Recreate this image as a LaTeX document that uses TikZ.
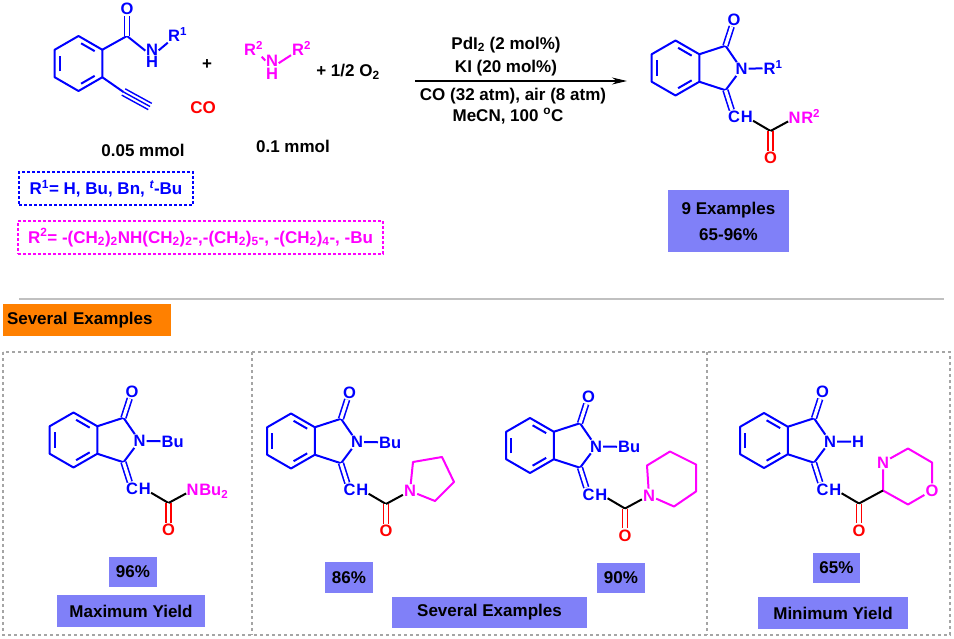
\documentclass[tikz,border=0pt]{standalone}
\usepackage{fontspec}
\setmainfont{Liberation Sans}
\usetikzlibrary{calc, positioning, arrows.meta}

\definecolor{chemblue}{RGB}{0,0,255}
\definecolor{chemred}{RGB}{255,0,0}
\definecolor{chempink}{RGB}{255,0,255}
\definecolor{boxblue}{RGB}{128,128,248}
\definecolor{boxorange}{RGB}{255,128,0}
\definecolor{framegray}{RGB}{165,165,165}

\tikzset{
  txt/.style={font=\bfseries\fontsize{17}{20}\selectfont, inner sep=1pt},
  atom/.style={font=\bfseries\fontsize{16.5}{19}\selectfont, inner sep=1pt},
  nh/.style={font=\bfseries\fontsize{16.5}{12.5}\selectfont, inner sep=0.5pt, align=center},
  tight/.style={inner xsep=0.2pt},
  bond/.style={line width=2pt, line join=round},
  dbond/.style={double, double distance=3.2pt, line width=1.6pt},
  ybox/.style={txt, fill=boxblue},
  gframe/.style={framegray, line width=1.2pt, dash pattern=on 3pt off 3pt}
}

% benzene ring at the origin of the current scope
\newcommand{\benzene}{%
  \foreach \i/\ang in {1/-90,2/-30,3/30,4/90,5/150,6/210}
  {
    \coordinate (a\i) at (\ang:27.5);
    \coordinate (b\i) at (\ang:21.7);
  }
  \draw[bond] (a1) -- (a2) -- (a3) -- (a4) -- (a5) -- (a6) -- cycle;
  \foreach \p/\q in {1/2,3/4,5/6}
  {
    \draw[bond, shorten <=3pt, shorten >=3pt] (b\p) -- (b\q);
  }
}

% isoindolinone core with CH-C(=O) arm
\newcommand{\isocore}[3]{%
  \begin{scope}[shift={#1}, name prefix=#2-, chemblue]
    \benzene
    \coordinate (c1) at (50,-22.25);
    \coordinate (c3) at (50,22.25);
    \coordinate (k) at (95,63);
    \coordinate (x) at (119,50);
    \node[atom] (n) at (66,1) {N};
    \node[atom] (o) at (58.5,-48.5) {O};
    \node[atom, tight] (c) at (58.5,49) {C};
    \node[atom, tight, anchor=base west] (h) at (c.base east) {H};
    \node[atom, anchor=base west] (sub) at (87,7) {#3};
    \node[atom, chemred] (ko) at (95,90) {O};
    \draw[bond] (a2) -- (c1) -- (n) -- (c3) -- (a3);
    \draw[bond] (n) -- (sub);
    \draw[dbond] (c1) -- (o);
    \draw[dbond] (c3) -- (c);
    \draw[bond, black] (h) -- (k);
    \draw[dbond, chemred] (k) -- (ko);
  \end{scope}}

\begin{document}
\begin{tikzpicture}[x=1pt, y=-1pt]
  \useasboundingbox (0,0) rectangle (954,639);

  % starting amide
  \begin{scope}[shift={(78.5,63.5)}, name prefix=sm-, chemblue]
    \benzene
    \coordinate (k) at (48.5,-27.5);
    \coordinate (t1) at (45,28.5);
    \coordinate (t2) at (71.5,43);
    \node[atom] (o) at (48.5,-55) {O};
    \node[nh] (n) at (73.5,-7.5) {N\\H};
    \node[atom, anchor=base west] (r) at (88.5,-22) {R\textsuperscript{1}};
    \draw[bond] (a2) -- (k) -- (n) -- (r);
    \draw[dbond] (k) -- (o);
    \draw[bond] (a3) -- (t1);
    \draw[bond, line width=1.4pt] (t1) -- (t2)
      ($(t1)!3.6pt!90:(t2)$) -- ($(t2)!3.6pt!-90:(t1)$)
      ($(t1)!3.6pt!-90:(t2)$) -- ($(t2)!3.6pt!90:(t1)$);
  \end{scope}

  % amine
  \begin{scope}[chempink]
    \node[nh] (amN) at (272,67.5) {N\\H};
    \node[atom, anchor=base west] (amRa) at (243,55.5) {R\textsuperscript{2}};
    \node[atom, anchor=base west] (amRb) at (291,55.5) {R\textsuperscript{2}};
    \draw[bond] (amRa) -- (amN) -- (amRb);
  \end{scope}

  \node[txt] (plus) at (207,65) {+};
  \node[txt, chemred] (co) at (203,108) {CO};
  \node[txt] (oxy) at (348,72) {+ 1/2 O\textsubscript{2}};
  \node[txt] (mmA) at (143,150) {0.05 mmol};
  \node[txt] (mmB) at (293,146) {0.1 mmol};

  \node[txt, chemblue, draw=chemblue, line width=1.2pt, dash pattern=on 3pt off 2pt,
    minimum width=174pt, minimum height=33pt] (rone) at (106,188.5)
    {R\textsuperscript{1}= H, Bu, Bn, \textsuperscript{\itshape t}-Bu};
  \node[txt, chempink, draw=chempink, line width=1.2pt, dash pattern=on 3pt off 2pt,
    minimum width=365pt, minimum height=33pt] (rtwo) at (200.5,237.5)
    {R\textsuperscript{2}= -(CH\textsubscript{2})\textsubscript{2}NH(CH\textsubscript{2})\textsubscript{2}-,-(CH\textsubscript{2})\textsubscript{5}-, -(CH\textsubscript{2})\textsubscript{4}-, -Bu};

  % reaction arrow
  \coordinate (arrS) at (415,81);
  \coordinate (arrE) at (627,81);
  \draw[line width=1.3pt, -{Stealth[length=15pt, width=7pt]}] (arrS) -- (arrE);
  \node[txt] (condA) at (506,45) {PdI\textsubscript{2} (2 mol\%)};
  \node[txt] (condB) at (506,68) {KI (20 mol\%)};
  \node[txt] (condC) at (513,96) {CO (32 atm), air (8 atm)};
  \node[txt] (condD) at (508,116) {MeCN, 100 \textsuperscript{o}C};

  % product
  \isocore{(675.5,68)}{pr}{R\textsuperscript{1}}
  \node[atom, tight, chempink] (prN) at (pr-x) {N};
  \node[atom, tight, chempink, anchor=base west] (prR) at (prN.base east) {R\textsuperscript{2}};
  \draw[bond] (pr-k) -- (prN);
  \node[ybox, minimum width=121pt, minimum height=62pt, align=center] (nine) at (728.5,221)
    {9 Examples\\[6pt]65-96\%};

  % lower part
  \draw[framegray!70, line width=1.2pt] (19,299) -- (944,299);
  \node[txt, fill=boxorange, minimum width=168pt, minimum height=32pt, text width=160pt,
    align=left] (hdr) at (87,320) {Several Examples};
  \draw[gframe] (3,352) rectangle (950,635);
  \draw[gframe] (252,352) -- (252,635);
  \draw[gframe] (707,352) -- (707,635);

  % panel 1
  \isocore{(73.5,440)}{pa}{Bu}
  \node[atom, tight, chempink] (paN) at (pa-x) {N};
  \node[atom, tight, chempink, anchor=base west] (paBu) at (paN.base east) {Bu\textsubscript{2}};
  \draw[bond] (pa-k) -- (paN);

  % panel 2, pyrrolidine
  \isocore{(291,441)}{pb}{Bu}
  \begin{scope}[shift={(pb-x)}, chempink]
    \node[atom] (pbN) at (0,0) {N};
    \coordinate (pb2) at (3,-29);
    \coordinate (pb3) at (32,-34);
    \coordinate (pb4) at (44,-9);
    \coordinate (pb5) at (25,10);
    \draw[bond] (pbN) -- (pb2) -- (pb3) -- (pb4) -- (pb5) -- (pbN);
  \end{scope}
  \draw[bond] (pb-k) -- (pbN);

  % panel 2, piperidine
  \isocore{(530,445.5)}{pc}{Bu}
  \begin{scope}[shift={(pc-x)}, chempink]
    \node[atom] (pcN) at (0,0) {N};
    \coordinate (pc2) at (-2,-30);
    \coordinate (pc3) at (21,-44);
    \coordinate (pc4) at (47,-31);
    \coordinate (pc5) at (47,-4);
    \coordinate (pc6) at (25,11);
    \draw[bond] (pcN) -- (pc2) -- (pc3) -- (pc4) -- (pc5) -- (pc6) -- (pcN);
  \end{scope}
  \draw[bond] (pc-k) -- (pcN);

  % panel 3, morpholine
  \isocore{(764,440.5)}{pd}{H}
  \begin{scope}[shift={(pd-x)}, chempink]
    \coordinate (pd1) at (0,0);
    \node[atom] (pdN) at (0,-28) {N};
    \coordinate (pd3) at (25,-42);
    \coordinate (pd4) at (49,-28);
    \node[atom] (pdO) at (49,0) {O};
    \coordinate (pd6) at (25,14);
    \draw[bond] (pd1) -- (pdN) -- (pd3) -- (pd4) -- (pdO) -- (pd6) -- (pd1);
  \end{scope}
  \draw[bond] (pd-k) -- (pd1);

  % yields
  \node[ybox, minimum width=48pt, minimum height=30pt] (ya) at (133,572) {96\%};
  \node[ybox, minimum width=148pt, minimum height=32pt] (maxy) at (131,611) {Maximum Yield};
  \node[ybox, minimum width=48pt, minimum height=31pt] (yb) at (349,577.5) {86\%};
  \node[ybox, minimum width=195pt, minimum height=31pt] (sevy) at (489.5,612.5) {Several Examples};
  \node[ybox, minimum width=48pt, minimum height=30pt] (yc) at (621,578) {90\%};
  \node[ybox, minimum width=47pt, minimum height=30pt] (yd) at (836.5,568) {65\%};
  \node[ybox, minimum width=150pt, minimum height=32pt] (miny) at (833,613) {Minimum Yield};
\end{tikzpicture}
\end{document}
